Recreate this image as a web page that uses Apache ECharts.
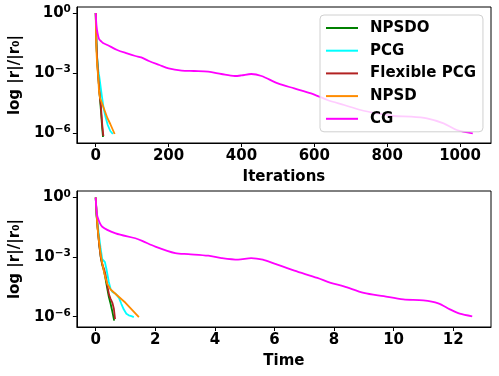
<!DOCTYPE html>
<html>
<head>
<meta charset="utf-8">
<script src="https://cdn.jsdelivr.net/npm/echarts@6/dist/echarts.min.js"></script>
<style>
  html, body { margin: 0; padding: 0; background: #fff; }
  #chart { width: 499px; height: 376px; }
</style>
</head>
<body>
<div id="chart"></div>
<script>
// residuals are stored as log10(|r|/|r0|)

const methodNames = ['NPSDO', 'PCG', 'Flexible PCG', 'NPSD', 'CG']
const methodColors = ['#008000', '#00ffff', '#b22222', '#ff8c00', '#ff00ff']

// top panel: iterations
const npsdoIter = [0, 2, 4, 6, 8, 10, 12, 14, 16, 18, 20]
const npsdoIterRes = [0, -1.5, -2.3, -2.9, -3.4, -3.9, -4.35, -4.8, -5.3, -5.8, -6.2]
const pcgIter = [0, 2, 5, 8, 10, 14, 18, 22, 27, 33, 40, 47]
const pcgIterRes = [0, -1.6, -2.5, -3.0, -3.2, -3.3, -4.3, -4.8, -5.2, -5.6, -5.9, -6.05]
const flexIter = [0, 2, 4, 6, 8, 10, 12, 14, 16, 18, 21]
const flexIterRes = [0, -1.5, -2.3, -2.9, -3.4, -3.9, -4.3, -4.6, -5.1, -5.6, -6.15]
const npsdIter = [0, 1, 2, 4, 7, 9, 12, 18, 25, 32, 40, 52]
const npsdIterRes = [0, -1.2, -1.9, -2.6, -3.25, -3.9, -4.25, -4.55, -4.9, -5.25, -5.55, -6.05]
const cgIter = [0, 2, 5, 9, 14, 20, 32, 59, 86, 109, 125, 146, 175, 200, 236, 270, 309, 345, 382, 400, 427, 455, 500, 545, 591, 636, 682, 727, 773, 818, 864, 909, 955, 991, 1035]
const cgIterRes = [0, -0.6, -1.0, -1.3, -1.4, -1.5, -1.6, -1.85, -2.02, -2.15, -2.22, -2.4, -2.6, -2.77, -2.88, -2.9, -2.93, -3.05, -3.15, -3.12, -3.05, -3.15, -3.52, -3.77, -4.02, -4.35, -4.6, -4.85, -5.02, -5.15, -5.18, -5.27, -5.52, -5.85, -6.02]

// bottom panel: time
const npsdoTime = [0, 0.03, 0.07, 0.12, 0.17, 0.22, 0.28, 0.33, 0.39, 0.44, 0.5, 0.56, 0.62]
const npsdoTimeRes = [0, -0.9, -1.6, -2.4, -3.0, -3.4, -3.7, -4.1, -4.6, -5.0, -5.35, -5.75, -6.2]
const pcgTime = [0, 0.03, 0.07, 0.11, 0.16, 0.22, 0.27, 0.31, 0.36, 0.44, 0.5, 0.56, 0.67, 0.78, 0.86, 0.94, 1.03, 1.11, 1.2, 1.28]
const pcgTimeRes = [0, -0.8, -1.4, -1.9, -2.5, -3.1, -3.15, -3.25, -3.6, -4.25, -4.6, -4.75, -4.85, -5.05, -5.35, -5.63, -5.85, -5.93, -5.97, -6.02]
const flexTime = [0, 0.03, 0.07, 0.12, 0.17, 0.22, 0.28, 0.33, 0.39, 0.45, 0.5, 0.56, 0.61, 0.65]
const flexTimeRes = [0, -0.9, -1.6, -2.4, -3.0, -3.35, -3.6, -3.9, -4.45, -4.9, -5.1, -5.3, -5.6, -6.12]
const npsdTime = [0, 0.02, 0.06, 0.11, 0.17, 0.22, 0.28, 0.33, 0.39, 0.5, 1.0, 1.45]
const npsdTimeRes = [0, -0.5, -1.5, -2.2, -2.9, -3.3, -3.75, -4.05, -4.35, -4.63, -5.3, -6.02]
const cgTime = [0, 0.02, 0.06, 0.22, 0.67, 1.33, 1.56, 2.0, 2.67, 3.11, 3.78, 4.22, 4.78, 5.22, 5.61, 6.0, 6.67, 7.44, 7.89, 8.33, 9.0, 9.67, 10.33, 11.0, 11.5, 11.89, 12.22, 12.64]
const cgTimeRes = [0, -0.5, -0.97, -1.47, -1.8, -2.05, -2.18, -2.47, -2.8, -2.85, -2.93, -3.05, -3.13, -3.05, -3.13, -3.33, -3.68, -4.05, -4.3, -4.47, -4.8, -4.97, -5.13, -5.18, -5.33, -5.63, -5.85, -5.98]

const iterTicks = [0, 200, 400, 600, 800, 1000]
const timeTicks = [0, 2, 4, 6, 8, 10, 12]
const resTicks = [-6, -3, 0]

const topX = [npsdoIter, pcgIter, flexIter, npsdIter, cgIter]
const topY = [npsdoIterRes, pcgIterRes, flexIterRes, npsdIterRes, cgIterRes]
const botX = [npsdoTime, pcgTime, flexTime, npsdTime, cgTime]
const botY = [npsdoTimeRes, pcgTimeRes, flexTimeRes, npsdTimeRes, cgTimeRes]

const zip = (xs, ys) => xs.map((x, i) => [x, ys[i]])

const boldText = { fontFamily: 'DejaVu Sans', fontWeight: 'bold', fontSize: 15, color: '#000' }

const makeX = (gridIndex, min, max, ticks, name) => ({
  type: 'value',
  gridIndex,
  min,
  max,
  name,
  nameLocation: 'middle',
  nameGap: 27,
  nameTextStyle: boldText,
  axisLine: { show: true, onZero: false, lineStyle: { color: '#000', width: 1 } },
  axisTick: { show: true, inside: false, length: 4, customValues: ticks, lineStyle: { color: '#000' } },
  axisLabel: { ...boldText, margin: 6, customValues: ticks, formatter: (v) => String(v) },
  splitLine: { show: false },
})

const makeY = (gridIndex, min, max) => ({
  type: 'value',
  gridIndex,
  min,
  max,
  name: 'log |r|/|r₀|',
  nameLocation: 'middle',
  nameRotate: 90,
  nameGap: 50,
  nameTextStyle: boldText,
  axisLine: { show: true, onZero: false, lineStyle: { color: '#000', width: 1 } },
  axisTick: { show: true, inside: false, length: 4, customValues: resTicks, lineStyle: { color: '#000' } },
  axisLabel: {
    margin: 6,
    customValues: resTicks,
    formatter: (v) => '{b|10}{s|' + (v === 0 ? '0' : '\u2212' + (-v)) + '}',
    rich: {
      b: { ...boldText, lineHeight: 18 },
      s: { ...boldText, fontSize: 10.5, lineHeight: 10, verticalAlign: 'top' },
    },
  },
  splitLine: { show: false },
})

const series = []
methodNames.forEach((name, i) => {
  const common = {
    name,
    type: 'line',
    symbol: 'none',
    smooth: name === 'CG' ? 0.3 : false,
    lineStyle: { color: methodColors[i], width: 1.8 },
    itemStyle: { color: methodColors[i] },
    animation: false,
  }
  series.push({ ...common, xAxisIndex: 0, yAxisIndex: 0, data: zip(topX[i], topY[i]) })
  series.push({ ...common, xAxisIndex: 1, yAxisIndex: 1, data: zip(botX[i], botY[i]) })
})

const chart = echarts.init(document.getElementById('chart'))
chart.setOption({
  animation: false,
  backgroundColor: '#fff',
  grid: [
    { left: 74, right: 8, top: 7, bottom: 233, show: true, borderColor: '#000', borderWidth: 1, backgroundColor: 'transparent' },
    { left: 74, right: 8, top: 191, bottom: 49, show: true, borderColor: '#000', borderWidth: 1, backgroundColor: 'transparent' },
  ],
  legend: {
    data: methodNames,
    orient: 'vertical',
    left: 320,
    top: 15,
    icon: 'rect',
    itemWidth: 32,
    itemHeight: 2,
    itemGap: 6.7,
    padding: [5, 7, 5, 6],
    backgroundColor: 'rgba(255,255,255,0.8)',
    borderColor: '#d0d0d0',
    borderWidth: 1,
    borderRadius: 4,
    textStyle: { ...boldText, lineHeight: 16, padding: [0, 0, 0, 7] },
  },
  xAxis: [
    makeX(0, -51.7, 1085, iterTicks, 'Iterations'),
    makeX(1, -0.632, 13.27, timeTicks, 'Time'),
  ],
  yAxis: [
    makeY(0, -6.5, 0.3),
    makeY(1, -6.52, 0.33),
  ],
  series,
})

window.addEventListener('resize', () => chart.resize())
</script>
</body>
</html>
